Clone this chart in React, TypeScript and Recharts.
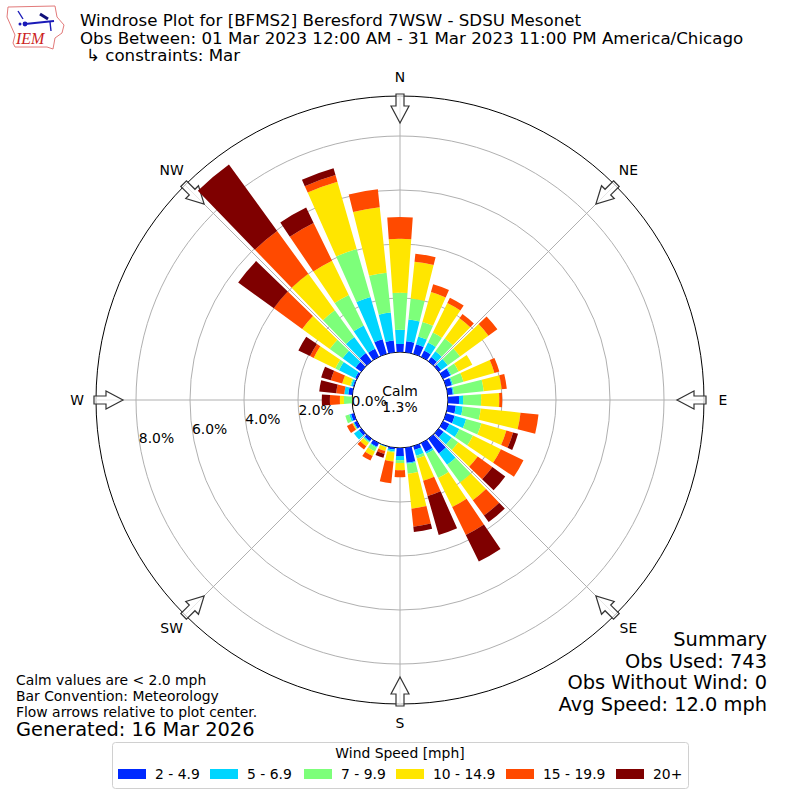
import { RadialBarChart, RadialBar, PolarAngleAxis, PolarRadiusAxis, PolarGrid } from 'recharts';

const FONT = '"DejaVu Sans", sans-serif';
const CX = 400;
const CY = 400;

// percent of obs per 10 degree bin, clockwise from north
const directions = [
  0, 10, 20, 30, 40, 50, 60, 70, 80, 90, 100, 110, 120, 130, 140, 150, 160, 170,
  180, 190, 200, 210, 220, 230, 240, 250, 260, 270, 280, 290, 300, 310, 320, 330, 340, 350,
];
const speed2to5 = [
  0.3, 0.41, 0.37, 0.26, 0.19, 0.11, 0.3, 0.22, 0.19, 0.41, 0.3, 0.33, 0.26, 0.22, 0.67, 0.37, 0.15, 0.56,
  0.3, 0.07, 0.02, 0.15, 0.11, 0.11, 0.11, 0.11, 0, 0, 0.15, 0.04, 0.07, 0.26, 0.37, 0.33, 0.56, 0.44,
];
const speed5to7 = [
  0.52, 0.81, 0.3, 0.33, 0.26, 0.3, 0.04, 0.04, 0.04, 0.15, 0.26, 0.44, 0.41, 0.37, 0.52, 0.07, 0.22, 0.04,
  0.15, 0.07, 0.02, 0.04, 0.04, 0.22, 0.04, 0.07, 0, 0, 0.15, 0.07, 0.67, 0.59, 0.74, 0.96, 1.63, 1.04,
];
const speed7to10 = [
  1.37, 0.78, 0.56, 0.41, 0.59, 0.56, 0.3, 0.41, 1.11, 0.67, 0.67, 0.59, 0.56, 0.3, 0.81, 1.0, 0.11, 0.37,
  0.11, 0.04, 0, 0.15, 0.04, 0, 0, 0.15, 0, 0.3, 0, 0.04, 0.15, 0.59, 1.22, 1.26, 1.85, 1.48,
];
const speed10to15 = [
  2.0, 1.37, 1.15, 1.22, 0.93, 1.3, 0.56, 1.19, 0.67, 0.67, 1.48, 0.96, 1.15, 0.89, 0.81, 1.19, 0.85, 1.3,
  0.26, 0.33, 0.15, 0.19, 0.15, 0, 0.04, 0, 0, 0.15, 0, 0.3, 0.89, 1.26, 1.67, 1.41, 2.59, 2.44,
];
const speed15to20 = [
  0.81, 0.3, 0.3, 0.22, 0.19, 0.41, 0, 0.19, 0.19, 0.11, 0.67, 0.26, 0.93, 0.67, 0.7, 1.15, 0.59, 0.67,
  0.26, 0.81, 0.11, 0.19, 0.15, 0, 0.22, 0, 0, 0.37, 0.3, 0.44, 0.15, 1.3, 1.96, 1.56, 0.26, 0.67,
];
const speed20plus = [
  0, 0, 0, 0, 0, 0, 0, 0, 0, 0, 0, 0.19, 0, 0.59, 0.3, 1.1, 1.5, 0.2,
  0, 0, 0.15, 0, 0, 0, 0, 0, 0, 0.3, 0.63, 0.37, 0.48, 1.63, 3.04, 0.63, 0.26, 0,
];

const speedBins = [
  { key: 's1', label: '2 - 4.9', color: '#0029ff', values: speed2to5 },
  { key: 's2', label: '5 - 6.9', color: '#00d5ff', values: speed5to7 },
  { key: 's3', label: '7 - 9.9', color: '#7dff7a', values: speed7to10 },
  { key: 's4', label: '10 - 14.9', color: '#ffe600', values: speed10to15 },
  { key: 's5', label: '15 - 19.9', color: '#ff4a00', values: speed15to20 },
  { key: 's6', label: '20+', color: '#7f0000', values: speed20plus },
];

const rows = directions.map((dir, i) => {
  const row: Record<string, number> = { dir };
  speedBins.forEach((b) => {
    row[b.key] = b.values[i];
  });
  return row;
});

const radiusTicks = [0, 2, 4, 6, 8];
const compass = [
  { name: 'N', bearing: 0 },
  { name: 'NE', bearing: 45 },
  { name: 'E', bearing: 90 },
  { name: 'SE', bearing: 135 },
  { name: 'S', bearing: 180 },
  { name: 'SW', bearing: 225 },
  { name: 'W', bearing: 270 },
  { name: 'NW', bearing: 315 },
];
const legendX = [118, 210, 304, 396, 506, 616];

function RadiusTick({ x, y, payload }: any) {
  return (
    <text x={x + 16.5} y={y - 7.7} textAnchor="middle" dominantBaseline="central" fontSize={13.9} fontFamily={FONT} fill="#000">
      {Number(payload.value).toFixed(1)}%
    </text>
  );
}

function CompassMarks() {
  return (
    <g fontFamily={FONT} fontSize={13.9}>
      {compass.map((c) => {
        const a = (c.bearing * Math.PI) / 180;
        const upper = c.name === 'NE' || c.name === 'NW';
        return (
          <g key={c.name}>
            <line
              x1={CX + 48 * Math.sin(a)}
              y1={CY - 48 * Math.cos(a)}
              x2={CX + 304 * Math.sin(a)}
              y2={CY - 304 * Math.cos(a)}
              stroke="#b0b0b0"
              strokeWidth={1}
            />
            <path
              d="M-4,-306 L4,-306 L4,-294 L9,-294 L0,-277 L-9,-294 L-4,-294 Z"
              transform={`translate(${CX},${CY}) rotate(${c.bearing})`}
              fill="#fff"
              fillOpacity={0.7}
              stroke="#333"
              strokeWidth={1.2}
            />
            <text
              x={CX + 323 * Math.sin(a)}
              y={CY - 323 * Math.cos(a) - (upper ? 1.5 : 0)}
              textAnchor="middle"
              dominantBaseline="central"
              fill="#000"
            >
              {c.name}
            </text>
          </g>
        );
      })}
    </g>
  );
}

function Logo() {
  return (
    <g>
      <path
        d="M8,7 L55,6 L57,17 L64,25 L62,33 L55,38 L53,49 L47,47 L15,47 L13,43 L15,35 L7,17 Z"
        fill="#fff"
        stroke="#e27a7a"
        strokeWidth={1}
      />
      <path d="M18,11 L23,19" stroke="#1a1ab8" strokeWidth={1.4} fill="none" />
      <path d="M25,24 L54,21" stroke="#1a1ab8" strokeWidth={2.2} fill="none" />
      <path d="M40,14 L48,19" stroke="#10107a" strokeWidth={3} fill="none" />
      <path d="M50,22 L51,31" stroke="#1a1ab8" strokeWidth={1.4} fill="none" />
      <circle cx={25} cy={24} r={2.4} fill="#1a1ab8" />
      <circle cx={20} cy={24} r={1.5} fill="#1a1ab8" />
      <text x={16} y={44} fontFamily='"Liberation Serif", serif' fontStyle="italic" fontSize={16} fill="#cc2222">
        IEM
      </text>
    </g>
  );
}

function Titles() {
  return (
    <g fontFamily={FONT} fill="#000">
      <g fontSize={16.67}>
        <text x={80} y={26}>Windrose Plot for [BFMS2] Beresford 7WSW - SDSU Mesonet</text>
        <text x={80} y={44}>Obs Between: 01 Mar 2023 12:00 AM - 31 Mar 2023 11:00 PM America/Chicago</text>
        <text x={86} y={61}>↳ constraints: Mar</text>
      </g>
      <g fontSize={19.4} textAnchor="end">
        <text x={767} y={646}>Summary</text>
        <text x={767} y={668}>Obs Used: 743</text>
        <text x={767} y={689}>Obs Without Wind: 0</text>
        <text x={767} y={711}>Avg Speed: 12.0 mph</text>
      </g>
      <g fontSize={13.9}>
        <text x={16} y={685}>Calm values are &lt; 2.0 mph</text>
        <text x={16} y={701}>Bar Convention: Meteorology</text>
        <text x={16} y={717}>Flow arrows relative to plot center.</text>
      </g>
      <text x={16} y={736} fontSize={19.4}>Generated: 16 Mar 2026</text>
      <g fontSize={13.9} textAnchor="middle">
        <text x={CX} y={396}>Calm</text>
        <text x={CX} y={412}>1.3%</text>
      </g>
    </g>
  );
}

function SpeedLegend() {
  return (
    <g fontFamily={FONT} fontSize={13.9} fill="#000">
      <rect x={112.5} y={742.5} width={576} height={46} rx={3} fill="#fff" stroke="#d0d0d0" />
      <text x={400} y={758} textAnchor="middle">Wind Speed [mph]</text>
      {speedBins.map((b, i) => (
        <g key={b.key}>
          <rect x={legendX[i]} y={769} width={28} height={10} fill={b.color} />
          <text x={legendX[i] + 37} y={779}>{b.label}</text>
        </g>
      ))}
    </g>
  );
}

export default function App() {
  return (
    <div style={{ position: 'absolute', left: 0, top: 0, width: 800, height: 800, background: '#fff' }}>
      <RadialBarChart
        width={800}
        height={800}
        data={rows}
        layout="centric"
        cx={CX}
        cy={CY}
        innerRadius={48}
        outerRadius={304}
        startAngle={85}
        endAngle={-275}
        barCategoryGap="10%"
        margin={{ top: 0, right: 0, bottom: 0, left: 0 }}
      >
        <PolarAngleAxis type="category" dataKey="dir" tick={false} axisLine={false} tickLine={false} />
        <PolarRadiusAxis
          type="number"
          domain={[0, 9.48]}
          ticks={radiusTicks}
          angle={190}
          axisLine={false}
          tickLine={false}
          tick={RadiusTick}
        />
        {speedBins.map((b) => (
          <RadialBar key={b.key} dataKey={b.key} stackId="rose" fill={b.color} isAnimationActive={false} />
        ))}
        <PolarGrid
          gridType="circle"
          radialLines={false}
          polarRadius={[102, 156, 210, 264]}
          polarAngles={[0, 45, 90, 135, 180, 225, 270, 315]}
          stroke="#b0b0b0"
          strokeWidth={1}
        />
        <circle cx={CX} cy={CY} r={48} fill="none" stroke="#000" strokeWidth={1} />
        <circle cx={CX} cy={CY} r={304} fill="none" stroke="#000" strokeWidth={1} />
        <CompassMarks />
        <Logo />
        <Titles />
        <SpeedLegend />
      </RadialBarChart>
    </div>
  );
}
